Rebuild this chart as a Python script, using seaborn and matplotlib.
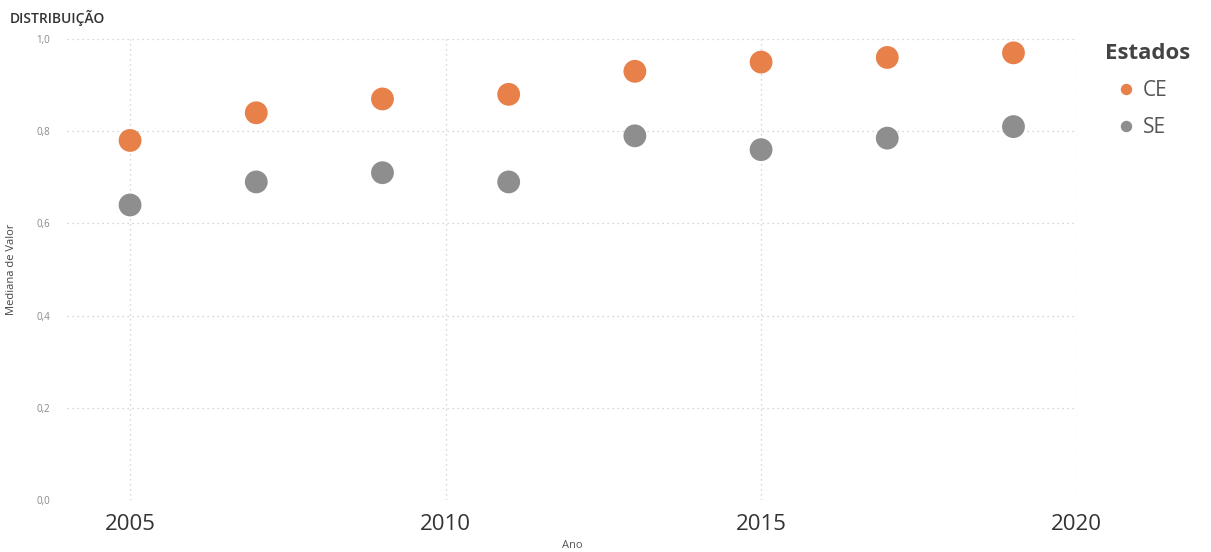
import matplotlib
matplotlib.use("Agg")
import matplotlib.pyplot as plt
import seaborn as sns
import pandas as pd
from matplotlib.ticker import FuncFormatter

anos = [2005, 2007, 2009, 2011, 2013, 2015, 2017, 2019]
ce_valores = [0.78, 0.84, 0.87, 0.88, 0.93, 0.95, 0.96, 0.97]
se_valores = [0.64, 0.69, 0.71, 0.69, 0.79, 0.76, 0.785, 0.81]
estados = ["CE", "SE"]
cores = {"CE": "#E8804A", "SE": "#8E8E8E"}
x_ticks = [2005, 2010, 2015, 2020]
y_ticks = [0.0, 0.2, 0.4, 0.6, 0.8, 1.0]

df = pd.DataFrame({
    "Ano": anos * 2,
    "Mediana de Valor": ce_valores + se_valores,
    "Estados": ["CE"] * len(anos) + ["SE"] * len(anos),
})

sns.set_theme(style="white")
plt.rcParams["font.family"] = ["Open Sans", "DejaVu Sans"]

fig = plt.figure(figsize=(12.11, 5.52), dpi=100)
ax = fig.add_axes([0.0553, 0.0942, 0.8337, 0.8351])

sns.scatterplot(data=df, x="Ano", y="Mediana de Valor", hue="Estados",
                hue_order=estados, palette=cores, s=270, edgecolor="none",
                ax=ax, zorder=3)

ax.set_xlim(2004, 2020)
ax.set_ylim(0, 1.0)
ax.set_xticks(x_ticks)
ax.set_yticks(y_ticks)
ax.yaxis.set_major_formatter(FuncFormatter(lambda v, p: f"{v:.1f}".replace(".", ",")))
ax.grid(True, linestyle=(0, (1, 3)), color="#C8C8C8", linewidth=0.9)
for s in ax.spines.values():
    s.set_visible(False)
ax.tick_params(axis="x", labelsize=16, colors="#333333", length=0, pad=10)
ax.tick_params(axis="y", labelsize=7, colors="#888888", length=0, pad=12)
ax.set_xlabel("Ano", fontsize=8, color="#555555", labelpad=4)
ax.set_ylabel("Mediana de Valor", fontsize=8, color="#444444", labelpad=14)

leg = ax.legend(title="Estados", loc="upper left", bbox_to_anchor=(1.02, 1.01),
                frameon=False, fontsize=15, title_fontsize=16, handletextpad=-0.2,
                labelspacing=0.75, markerscale=0.5, borderaxespad=0)
leg.get_title().set_fontweight("bold")
leg.get_title().set_color("#444444")
leg._legend_box.align = "left"
leg._legend_box.sep = 12
for t in leg.get_texts():
    t.set_color("#555555")

fig.text(0.008, 0.968, "DISTRIBUIÇÃO", fontsize=10, color="#333333",
         fontweight="semibold", ha="left", va="center")

fig.savefig("out.png", dpi=100)
